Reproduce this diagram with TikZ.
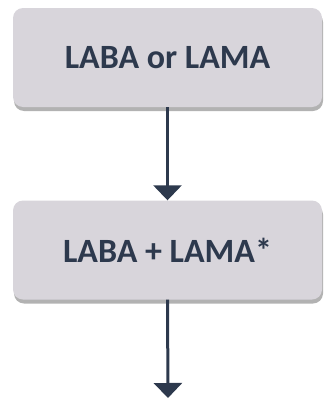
\documentclass[tikz,border=0pt]{standalone}
\usepackage{fontspec}
\setmainfont{Carlito}
\usetikzlibrary{arrows.meta,shadows}
\definecolor{boxgray}{HTML}{D8D5DB}
\definecolor{navy}{HTML}{2D394D}
\begin{document}
\begin{tikzpicture}[x=1pt,y=-1pt,
    stagebox/.style={draw=none,fill=boxgray,rounded corners=10pt,
      minimum width=309pt,minimum height=99pt,
      font=\fontsize{34}{38}\selectfont\bfseries,text=navy,
      drop shadow={shadow xshift=1pt,shadow yshift=-4pt,opacity=.5,fill=black!60}},
    flow/.style={navy,line width=3pt,-{Triangle[width=28pt,length=15pt]}}]
    \useasboundingbox (0,0) rectangle (325,399);
    % Two treatment steps
    \node[stagebox] (mono) at (167.5,57.5) {LABA or LAMA};
    \node[stagebox] (dual) at (167.5,250) {LABA + LAMA*};
    % Next step below the picture
    \coordinate (next) at (168,398);
    \draw[flow] (mono.south) -- (dual.north);
    \draw[flow] (dual.south) -- (next);
\end{tikzpicture}
\end{document}
